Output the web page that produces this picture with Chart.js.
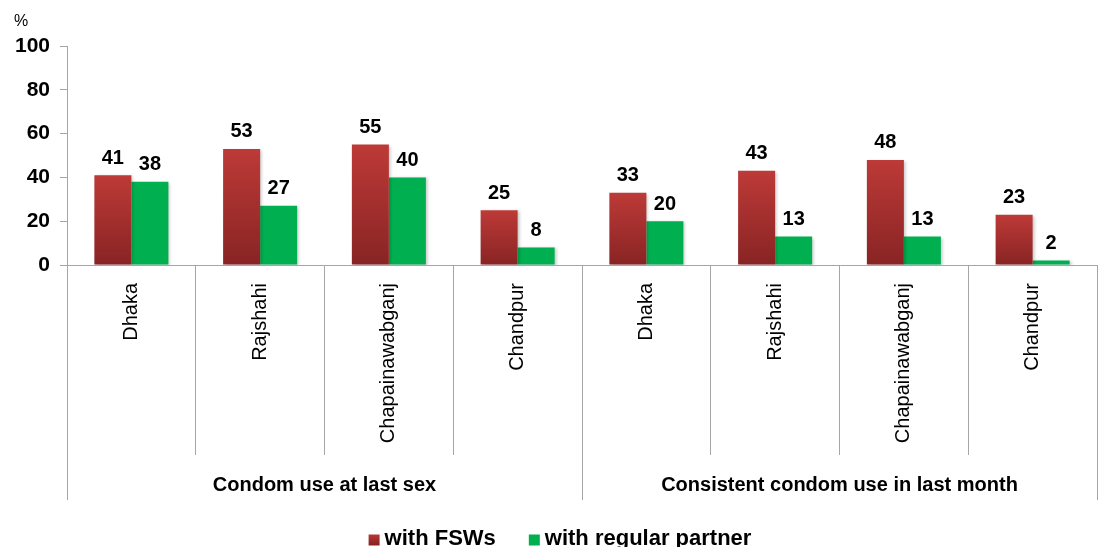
<!DOCTYPE html>
<html>
<head>
<meta charset="utf-8">
<script src="https://cdn.jsdelivr.net/npm/chart.js@4.4.1/dist/chart.umd.min.js"></script>
<style>
  html,body{margin:0;padding:0;background:#fff;overflow:hidden}
  #wrap{width:1101px;height:547px;position:relative}
</style>
</head>
<body>
<div id="wrap"><canvas id="c"></canvas></div>
<script>
// districts, repeated for each indicator group
const categories = ['Dhaka','Rajshahi','Chapainawabganj','Chandpur','Dhaka','Rajshahi','Chapainawabganj','Chandpur'];
const groups = ['Condom use at last sex','Consistent condom use in last month'];
const withFSWs = [41, 53, 55, 25, 33, 43, 48, 23];
const withRegularPartner = [38, 27, 40, 8, 20, 13, 13, 2];
const yTickStep = 20;
const yMax = 100;

const FONT = "'Liberation Sans', Arial, sans-serif";
const RED_TOP = '#bd3a37', RED_BOTTOM = '#882424', GREEN = '#00b050';
const GRID = '#a6a6a6';

// each red bar gets its own top-to-bottom shading
function redFill(c){
  const chart = c.chart;
  if (!chart.chartArea || c.raw == null) return RED_TOP;
  const y = chart.scales.y;
  const top = y.getPixelForValue(c.raw), bottom = y.getPixelForValue(0);
  if (!isFinite(top) || bottom - top < 1) return RED_TOP;
  const g = chart.ctx.createLinearGradient(0, top, 0, bottom);
  g.addColorStop(0, RED_TOP); g.addColorStop(1, RED_BOTTOM);
  return g;
}

// soft drop shadow under the bars
const barShadow = {
  id:'barShadow',
  beforeDatasetsDraw(chart){
    const ctx = chart.ctx;
    ctx.save();
    ctx.shadowColor = 'rgba(0,0,0,0.22)';
    ctx.shadowBlur = 3; ctx.shadowOffsetX = 2; ctx.shadowOffsetY = 1;
  },
  afterDatasetsDraw(chart){ chart.ctx.restore(); }
};

const extras = {
  id:'extras',
  afterDraw(chart){
    const {ctx, chartArea:a, scales:{x}} = chart;
    ctx.save();
    // % unit above the y axis
    ctx.fillStyle = '#000';
    ctx.font = `16px ${FONT}`;
    ctx.textAlign = 'left'; ctx.textBaseline = 'middle';
    ctx.fillText('%', 14, 22);

    // value labels over bars
    ctx.font = `bold 20px ${FONT}`;
    ctx.textAlign = 'center'; ctx.textBaseline = 'bottom';
    chart.data.datasets.forEach((ds, di) => {
      chart.getDatasetMeta(di).data.forEach((bar, i) => {
        ctx.fillText(String(ds.data[i]), bar.x, bar.y - 7);
      });
    });

    // district names, reading upward
    ctx.font = `20px ${FONT}`;
    ctx.textAlign = 'right'; ctx.textBaseline = 'middle';
    categories.forEach((lab, i) => {
      ctx.save();
      ctx.translate(x.getPixelForValue(i), a.bottom + 18);
      ctx.rotate(-Math.PI / 2);
      ctx.fillText(lab, 0, 0);
      ctx.restore();
    });

    // longer dividers around each indicator group
    const per = categories.length / groups.length;
    const half = (x.getPixelForValue(1) - x.getPixelForValue(0)) / 2;
    ctx.strokeStyle = GRID; ctx.lineWidth = 1;
    for (let g = 0; g <= groups.length; g++){
      const idx = Math.min(g * per, categories.length - 1);
      const px = Math.round(x.getPixelForValue(idx) + (g * per >= categories.length ? half : -half)) + 0.5;
      ctx.beginPath(); ctx.moveTo(px, a.bottom); ctx.lineTo(px, 500); ctx.stroke();
    }
    ctx.font = `bold 20px ${FONT}`;
    ctx.textAlign = 'center';
    groups.forEach((gl, g) => {
      const cx = (x.getPixelForValue(g * per) + x.getPixelForValue(g * per + per - 1)) / 2;
      ctx.fillText(gl, cx, 485);
    });

    // legend
    ctx.font = `bold 22px ${FONT}`;
    ctx.textAlign = 'left'; ctx.textBaseline = 'middle';
    const items = chart.data.datasets.map(d => d.label);
    const box = 11, gapBox = 5, gapItem = 33;
    const widths = items.map(t => box + gapBox + ctx.measureText(t).width);
    let lx = 560 - (widths.reduce((s, w) => s + w, 0) + gapItem * (items.length - 1)) / 2;
    items.forEach((t, i) => {
      const ly = 539;
      if (i === 0){
        const g = ctx.createLinearGradient(0, ly - box/2, 0, ly + box/2);
        g.addColorStop(0, RED_TOP); g.addColorStop(1, RED_BOTTOM);
        ctx.fillStyle = g;
      } else ctx.fillStyle = GREEN;
      ctx.fillRect(lx, ly - box/2 + 1, box, box);
      ctx.fillStyle = '#000';
      ctx.fillText(t, lx + box + gapBox, ly);
      lx += widths[i] + gapItem;
    });
    ctx.restore();
  }
};

new Chart(document.getElementById('c'), {
  type:'bar',
  data:{
    labels:categories,
    datasets:[
      {label:'with FSWs', data:withFSWs, backgroundColor:redFill},
      {label:'with regular partner', data:withRegularPartner, backgroundColor:GREEN}
    ]
  },
  options:{
    responsive:true, maintainAspectRatio:false, animation:false,
    layout:{padding:{top:46, right:4, left:0, bottom:0}},
    datasets:{bar:{categoryPercentage:0.575, barPercentage:1, borderWidth:0}},
    plugins:{legend:{display:false}, tooltip:{enabled:false}},
    scales:{
      x:{
        ticks:{display:false},
        grid:{offset:true, drawOnChartArea:false, drawTicks:true, tickLength:190, color:GRID},
        border:{color:GRID},
        afterFit(s){ s.height = 547 - 265; }
      },
      y:{
        min:0, max:yMax,
        ticks:{stepSize:yTickStep, padding:10, color:'#000', font:{family:FONT, size:21, weight:'bold'}},
        grid:{drawOnChartArea:false, drawTicks:true, tickLength:7, color:GRID},
        border:{color:GRID},
        afterFit(s){ s.width = 67; }
      }
    }
  },
  plugins:[barShadow, extras]
});
</script>
</body>
</html>
